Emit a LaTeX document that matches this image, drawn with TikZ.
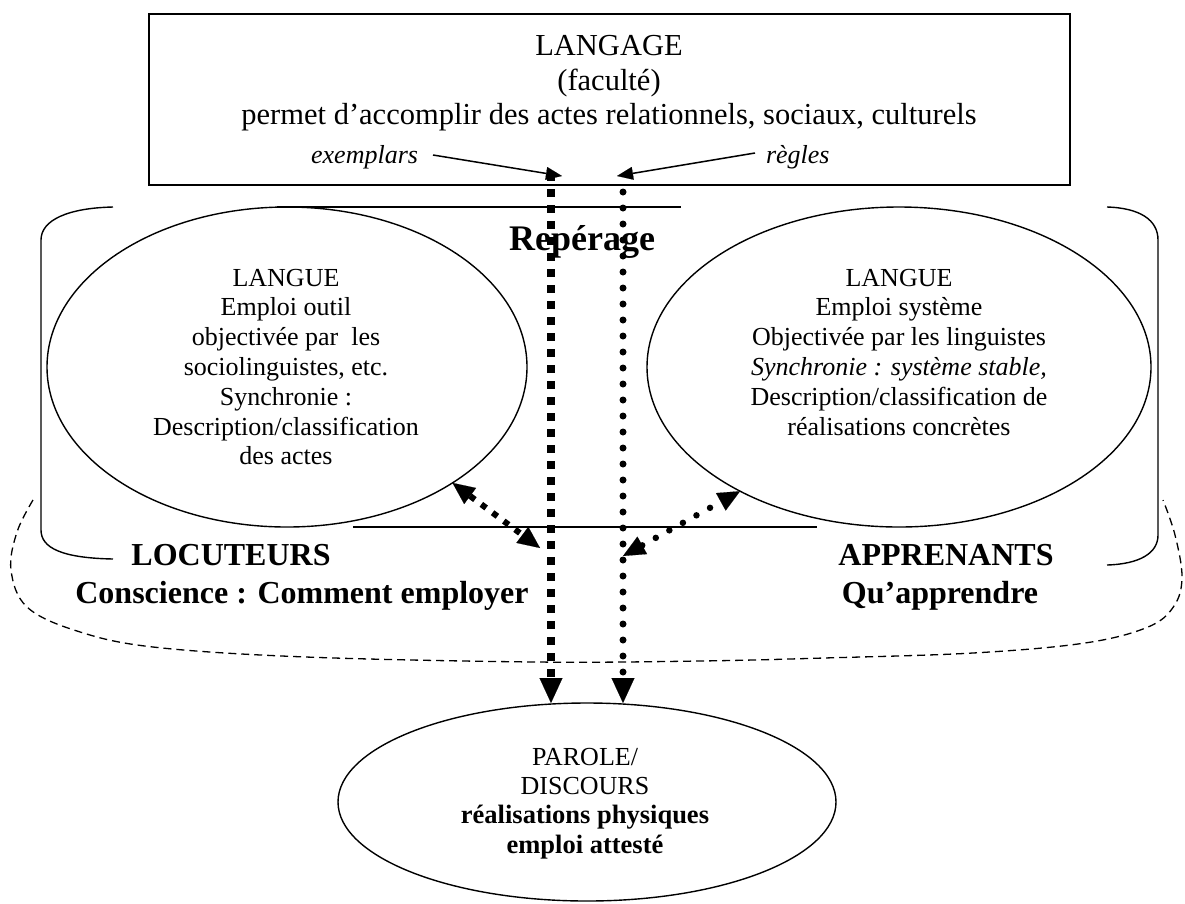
\documentclass[tikz,border=0pt]{standalone}
\usepackage{fontspec}
\setmainfont{Liberation Serif}
\usetikzlibrary{arrows.meta,shapes.geometric}
\begin{document}
\begin{tikzpicture}[x=1pt,y=-1pt,
  every node/.style={inner sep=0pt, outer sep=0pt},
  reg/.style={font=\fontsize{26}{30}\selectfont, anchor=base},
  toptxt/.style={font=\fontsize{30.5}{36}\selectfont, anchor=base},
  ital/.style={font=\fontsize{26}{30}\selectfont\itshape, anchor=base},
  bld/.style={font=\fontsize{32}{38}\selectfont\bfseries, anchor=base},
  pbld/.style={font=\fontsize{26.5}{30}\selectfont\bfseries, anchor=base},
  frame/.style={draw, line width=1.5pt},
  ell/.style={ellipse, draw, line width=1.4pt},
  thinline/.style={line width=1.4pt},
  sqdot/.style={line width=8pt, dash pattern=on 8pt off 8pt},
  rdot/.style={line width=7pt, line cap=round, dash pattern=on 0pt off 16pt},
  sqdotsmall/.style={line width=6pt, dash pattern=on 6pt off 8pt},
  rdotsmall/.style={line width=6.5pt, line cap=round, dash pattern=on 0pt off 15.5pt},
  bighead/.style={-{Triangle[length=25pt,width=23pt,line width=0.1pt]}},
  midhead/.style={{Triangle[length=22pt,width=20pt,line width=0.1pt]}-{Triangle[length=22pt,width=20pt,line width=0.1pt]}},
  smallhead/.style={line width=1.5pt, -{Triangle[length=16pt,width=13pt,line width=0.1pt]}},
  dashcurve/.style={line width=1.3pt, dash pattern=on 8pt off 5pt}
]
\useasboundingbox (0,0) rectangle (1185,903);

% top box
\node[frame, minimum width=921pt, minimum height=171pt] (langage) at (609.5,99.5) {};
\node[toptxt] (t1) at (609,55) {LANGAGE};
\node[toptxt] (t2) at (609,90) {(faculté)};
\node[toptxt] (t3) at (609,124) {permet d’accomplir des actes relationnels, sociaux, culturels};
\node[ital, anchor=base east] (exemplars) at (418,163) {exemplars};
\node[ital, anchor=base west] (regles) at (766,163) {règles};

% Repérage frame lines
\coordinate (topL) at (277,207);
\coordinate (topR) at (681,207);
\coordinate (botL) at (353,527);
\coordinate (botR) at (817,527);
\draw[thinline] (topL) -- (topR);
\draw[thinline] (botL) -- (botR);
\node[font=\fontsize{36}{40}\selectfont\bfseries, anchor=base] (reperage) at (582,250) {Repérage};

% ellipses
\node[ell, minimum width=480pt, minimum height=320pt] (lell) at (287,367) {};
\node[ell, minimum width=504pt, minimum height=320pt] (rell) at (899,367) {};
\node[ell, minimum width=498pt, minimum height=198pt] (parole) at (587,802) {};

% left ellipse text
\foreach \s [count=\i from 0] in {LANGUE, Emploi outil, {objectivée par\ \ les}, {sociolinguistes, etc.}, {Synchronie :}, Description/classification, des actes}
  \node[reg] (gl\i) at (286,{286+29.8*\i}) {\s};

% right ellipse text
\foreach \s [count=\i from 0] in {LANGUE, Emploi système, Objectivée par les linguistes, {\itshape Synchronie : système stable,}, Description/classification de, réalisations concrètes}
  \node[reg] (gr\i) at (899,{286+29.8*\i}) {\s};

% parole text
\node[reg] (p1) at (585,765) {PAROLE/};
\node[reg] (p2) at (585,794) {DISCOURS};
\node[pbld] (p3) at (585,823) {réalisations physiques};
\node[pbld] (p4) at (585,853) {emploi attesté};

% brackets
\draw[thinline] (113,207) .. controls (68,208) and (41,220) .. (41,240) -- (41,530) .. controls (41,548) and (62,558) .. (113,559);
\draw[thinline] (1107,207) .. controls (1140,208) and (1158,220) .. (1158,240) -- (1158,535) .. controls (1158,553) and (1140,564) .. (1107,565);

% labels
\node[bld] (locuteurs) at (231,565) {LOCUTEURS};
\node[bld] (conscience) at (302,603) {Conscience : Comment employer};
\node[bld] (apprenants) at (946,565) {APPRENANTS};
\node[bld] (quapp) at (940,603) {Qu’apprendre};

% dashed curve
\draw[dashcurve] plot[smooth, tension=0.6] coordinates {(33,500) (17,532) (11,570) (27,607) (77,631) (153,647) (306,657) (536,662) (700,661) (824,658) (973,653) (1085,643) (1148,627) (1174,606) (1182,577) (1175,535) (1163,500)};

% small arrows
\coordinate (exTail) at (433,155);
\coordinate (exTip) at (562,176);
\coordinate (rgTail) at (755,153);
\coordinate (rgTip) at (617,176);
\draw[smallhead] (exTail) -- (exTip);
\draw[smallhead] (rgTail) -- (rgTip);

% vertical arrows
\coordinate (sqTop) at (551,173);
\coordinate (rdTop) at (623,192);
\draw[sqdot, bighead] (sqTop) -- (sqTop |- parole.north);
\draw[rdot, bighead] (rdTop) -- (rdTop |- parole.north);

% diagonal arrows
\coordinate (dlEnd) at (540,548);
\coordinate (drEnd) at (623,556);
\draw[sqdotsmall, midhead] (lell.-35) -- (dlEnd);
\draw[rdotsmall, midhead] (drEnd) -- (rell.-142);
\end{tikzpicture}
\end{document}
